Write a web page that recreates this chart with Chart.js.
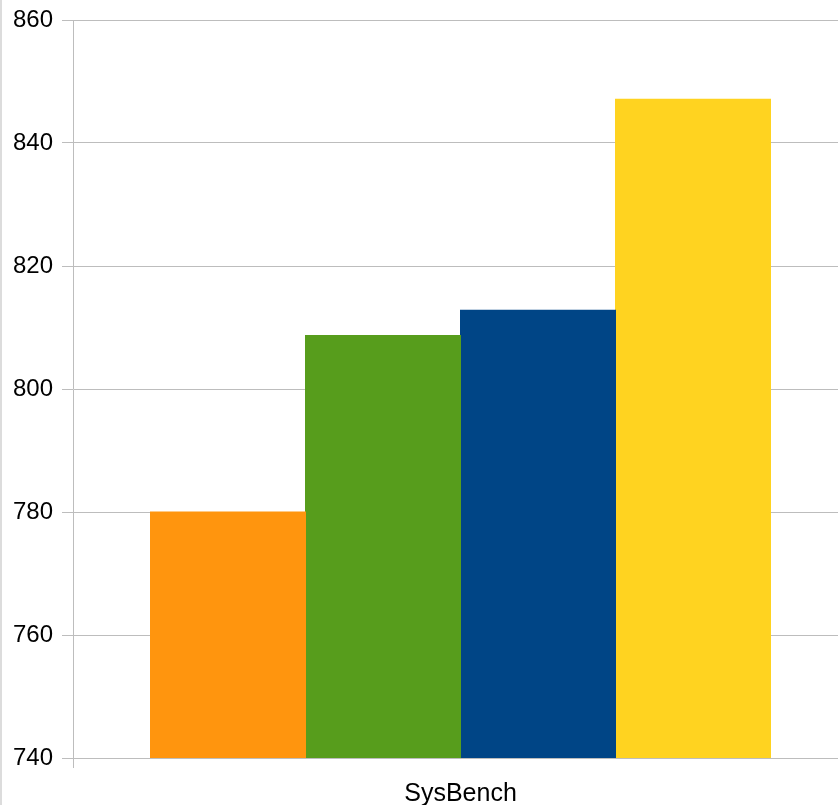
<!DOCTYPE html>
<html>
<head>
<meta charset="utf-8">
<script src="https://cdn.jsdelivr.net/npm/chart.js@4"></script>
<style>
  html, body { margin: 0; padding: 0; overflow: hidden; background: #fff; }
  #wrap { position: relative; width: 838px; height: 805px; overflow: hidden; }
  #edge { position: absolute; left: 0; top: 0; width: 2px; height: 805px; background: #dcdcdc; z-index: 2; }
  #chart { position: absolute; left: 0; top: 0; }
</style>
</head>
<body>
<div id="wrap">
  <div id="edge"></div>
  <canvas id="chart" width="850" height="805"></canvas>
</div>
<script>
const categories = ['SysBench'];
const seriesNames = ['Serie 1', 'Serie 2', 'Serie 3', 'Serie 4'];
const seriesValues = [[780.0], [808.7], [812.8], [847.1]];
const seriesColors = ['#ff950e', '#579d1c', '#004586', '#ffd320'];
const yTicks = [740, 760, 780, 800, 820, 840, 860];

const gridColor = '#bdbdbd';

const datasets = seriesNames.map(function (name, i) {
    return {
        label: name,
        data: seriesValues[i],
        backgroundColor: seriesColors[i],
        borderWidth: 0,
        inflateAmount: 0.5,
        categoryPercentage: 0.8,
        barPercentage: 1.0
    };
});

const config = {
    type: 'bar',
    data: { labels: categories, datasets: datasets },
    options: {
        responsive: false,
        animation: false,
        layout: { padding: { top: 20, right: 2, left: 0, bottom: 0 } },
        plugins: {
            legend: { display: false },
            tooltip: { enabled: false }
        },
        scales: {
            x: {
                grid: {
                    offset: true,
                    drawOnChartArea: false,
                    drawTicks: true,
                    tickLength: 10,
                    color: gridColor
                },
                border: { color: gridColor },
                ticks: {
                    color: '#000',
                    padding: 11,
                    font: { family: 'Liberation Sans', size: 25 }
                },
                afterFit: function (scale) { scale.height = 47; }
            },
            y: {
                min: yTicks[0],
                max: yTicks[yTicks.length - 1],
                afterBuildTicks: function (scale) {
                    scale.ticks = yTicks.map(function (v) { return { value: v }; });
                },
                grid: {
                    color: gridColor,
                    tickLength: 11
                },
                border: { color: gridColor },
                ticks: {
                    color: '#000',
                    padding: 9,
                    font: { family: 'Liberation Sans', size: 24 }
                },
                afterFit: function (scale) {
                    scale.width = 73;
                    scale.paddingTop = 0;
                    scale.paddingBottom = 0;
                }
            }
        }
    }
};

const chart = new Chart(document.getElementById('chart'), config);
</script>
</body>
</html>
